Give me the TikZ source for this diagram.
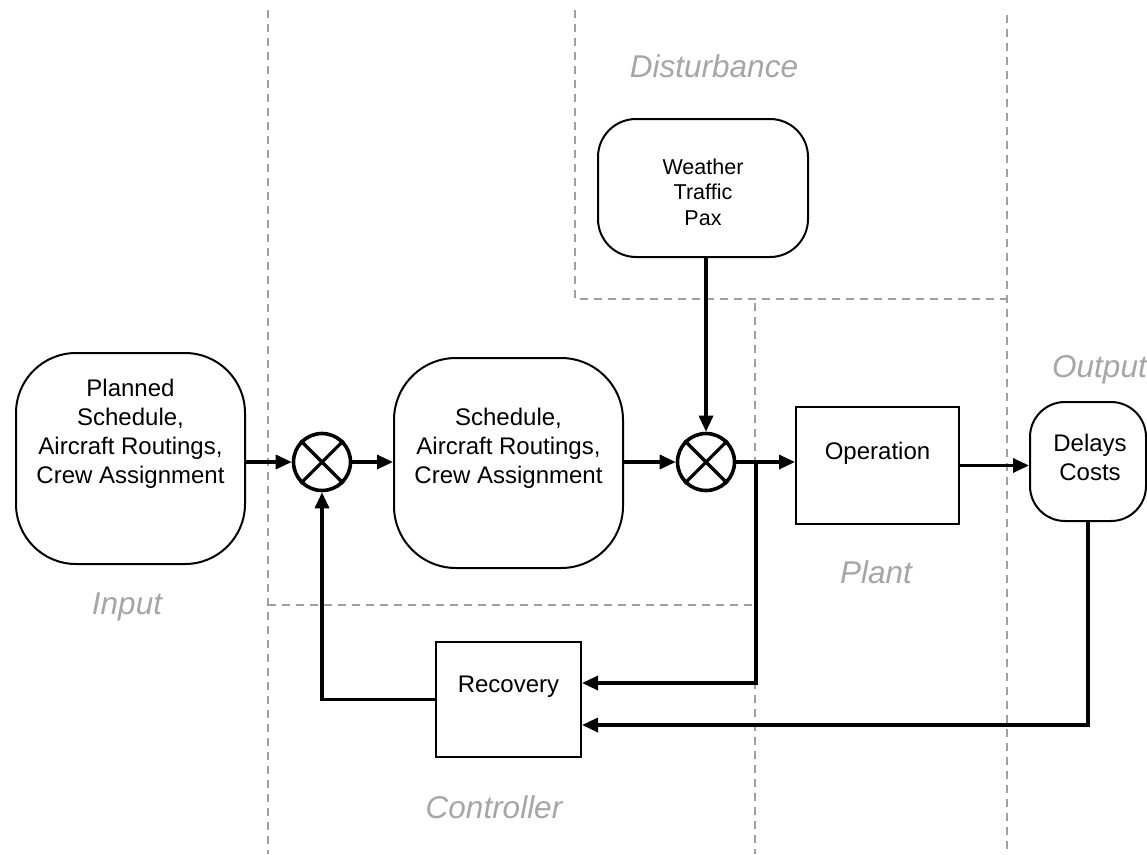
\documentclass[tikz,border=0pt]{standalone}
\usepackage{fontspec}
\setmainfont{Liberation Sans}
\usepackage{xcolor}
\usepackage{tikz}
\usetikzlibrary{calc,arrows.meta}
\definecolor{ink}{HTML}{000000}
\definecolor{zonegray}{HTML}{A0A0A0}
\definecolor{taggray}{HTML}{A6A6A6}
\tikzset{
  rbox/.style={draw=ink, line width=2pt, rectangle, inner sep=0pt},
  sqbox/.style={draw=ink, line width=2pt, rectangle, inner sep=0pt},
  sum/.style={draw=ink, line width=3.6pt, circle, inner sep=0pt, minimum size=57pt},
  txt/.style={text=ink, inner sep=0pt, align=center, font=\fontsize{24}{29}\selectfont},
  txts/.style={text=ink, inner sep=0pt, align=center, font=\fontsize{21.5}{25.5}\selectfont},
  zone/.style={draw=zonegray, line width=1.5pt, dash pattern=on 8pt off 6pt},
  tag/.style={text=taggray, inner sep=0pt, font=\fontsize{31.5}{36}\selectfont\itshape},
  sig/.style={draw=ink, line width=3.3pt, -{Triangle[length=16pt,width=14pt]}},
}

\begin{document}
\begin{tikzpicture}[x=1pt, y=-1pt]
  \useasboundingbox (0,0) rectangle (1147,854);
  % regions
  \draw[zone] (268,10) -- (268,854);
  \draw[zone] (575,10) -- (575,299) -- (1007,299);
  \draw[zone] (1007,15) -- (1007,854);
  \draw[zone] (755,303) -- (755,854);
  \draw[zone] (268,605) -- (755,605);
  \node[tag] (disturb) at (714,66) {Disturbance};
  \node[tag] (input) at (127,607) {Input};
  \node[tag] (plant) at (876,572) {Plant};
  \node[tag] (ctrl) at (494,807) {Controller};
  \node[tag, anchor=west] (output) at (1052,370) {Output};
  % blocks
  \node[rbox, minimum width=229pt, minimum height=211pt, rounded corners=60pt] (plan) at (130.5,458.5) {};
  \node[txt] (planT) at (130.5,434) {Planned\\Schedule,\\Aircraft Routings,\\Crew Assignment};
  \node[rbox, minimum width=229pt, minimum height=210pt, rounded corners=62pt] (sched) at (508.5,463) {};
  \node[txt] (schedT) at (508.5,448) {Schedule,\\Aircraft Routings,\\Crew Assignment};
  \node[rbox, minimum width=210pt, minimum height=138pt, rounded corners=38pt] (weather) at (703,188) {};
  \node[txts] (weatherT) at (703,192) {Weather\\Traffic\\Pax};
  \node[sqbox, minimum width=163pt, minimum height=117pt] (oper) at (877.5,465.5) {};
  \node[txt] (operT) at (877.5,453) {Operation};
  \node[rbox, minimum width=116pt, minimum height=119pt, rounded corners=35pt] (deli) at (1088,461.5) {};
  \node[txt] (deliT) at (1090,457) {Delays\\Costs};
  \node[sqbox, minimum width=145pt, minimum height=115pt] (recov) at (508.5,699.5) {};
  \node[txt] (recovT) at (508.5,687) {Recovery};
  \node[sum] (sum1) at (322,462) {};
  \node[sum] (sum2) at (706,462) {};
  \foreach \s in {sum1,sum2}
    \draw[ink, line width=3.2pt] (\s.north west) -- (\s.south east) (\s.north east) -- (\s.south west);
  % signals
  \coordinate (tap) at (756,462);
  \draw[sig] (sum1.west -| plan.east) -- (sum1.west);
  \draw[sig] (sum1.east) -- (sum1.east -| sched.west);
  \draw[sig] (sum2.west -| sched.east) -- (sum2.west);
  \draw[sig] (weather.south -| sum2.north) -- (sum2.north);
  \draw[sig] (sum2.east) -- (sum2.east -| oper.west);
  \draw[sig] (oper.east) -- (oper.east -| deli.west);
  \draw[sig] (tap) |- ([yshift=16.5pt]recov.east);
  \draw[sig] (deli.south) |- ([yshift=-25.5pt]recov.east);
  \draw[sig] (recov.west) -| (sum1.south);
\end{tikzpicture}
\end{document}
